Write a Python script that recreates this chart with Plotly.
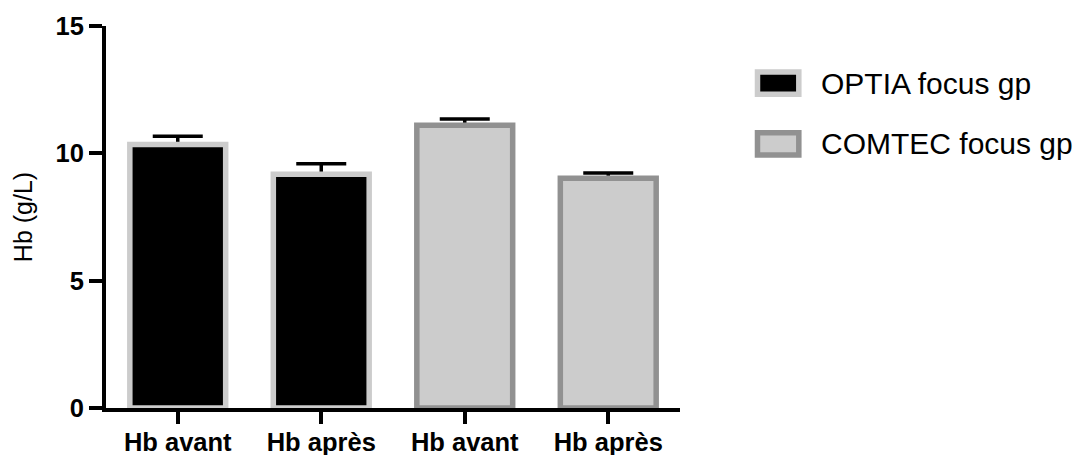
import plotly.graph_objects as go

labels = ["Hb avant", "Hb après", "Hb avant", "Hb après"]
optia_vals = [10.35, 9.18]
optia_err = [0.32, 0.41]
comtec_vals = [11.1, 9.02]
comtec_err = [0.25, 0.21]

FONT = "Arial, Liberation Sans, sans-serif"
BAR_W = 0.668

fig = go.Figure()

# error bars on hidden bars first, real bars on top hide the lower half (like Prism)
for xs, vals, errs in [([0, 1], optia_vals, optia_err), ([2, 3], comtec_vals, comtec_err)]:
    fig.add_trace(go.Bar(
        x=xs, y=vals, width=BAR_W, showlegend=False, hoverinfo="skip",
        marker=dict(color="rgba(0,0,0,0)", line=dict(width=0)),
        error_y=dict(type="data", array=errs, color="black", thickness=3.5, width=25),
    ))

fig.add_trace(go.Bar(
    x=[0, 1], y=optia_vals, name="OPTIA focus gp", width=BAR_W,
    marker=dict(color="black", line=dict(color="#cccccc", width=5.5)),
    showlegend=False,
))
fig.add_trace(go.Bar(
    x=[2, 3], y=comtec_vals, name="COMTEC focus gp", width=BAR_W,
    marker=dict(color="#cccccc", line=dict(color="#919191", width=5.5)),
    showlegend=False,
))

# legend drawn by hand so the swatches look like the original
legend_items = [("OPTIA focus gp", "black", "#cccccc", 0.8506),
                ("COMTEC focus gp", "#cccccc", "#919191", 0.6914)]
for name, fill, edge, yc in legend_items:
    fig.add_shape(type="rect", xref="paper", yref="paper",
                  x0=1.135, x1=1.207, y0=yc - 0.029, y1=yc + 0.029,
                  fillcolor=fill, line=dict(color=edge, width=5.5))
    fig.add_annotation(text=name, xref="paper", yref="paper", x=1.243, y=yc,
                       xanchor="left", yanchor="middle", showarrow=False,
                       font=dict(family=FONT, size=30, color="black"))

# page body has an 8px margin, so the figure is a bit smaller than the window
fig.update_layout(
    width=1077, height=447,
    margin=dict(l=98, r=405, t=17.5, b=47),
    plot_bgcolor="white", paper_bgcolor="white",
    barmode="overlay",
    font=dict(family=FONT, color="black"),
)
fig.update_xaxes(
    range=[-0.5, 3.5], tickvals=[0, 1, 2, 3], ticktext=labels,
    showline=True, linecolor="black", linewidth=4,
    ticks="outside", ticklen=12, tickwidth=4, tickcolor="black",
    tickfont=dict(family=FONT, size=25.5, color="black", weight="bold"),
    ticklabelstandoff=-4,
    showgrid=False, zeroline=False, automargin=False,
)
fig.update_yaxes(
    range=[0, 15], tickvals=[0, 5, 10, 15],
    showline=True, linecolor="black", linewidth=4,
    ticks="outside", ticklen=13, tickwidth=4, tickcolor="black",
    tickfont=dict(family=FONT, size=25.5, color="black", weight="bold"),
    title=dict(text="Hb (g/L)", font=dict(family=FONT, size=25, color="black"), standoff=17),
    showgrid=False, zeroline=False, automargin=False,
)

fig.write_html("out.html")
